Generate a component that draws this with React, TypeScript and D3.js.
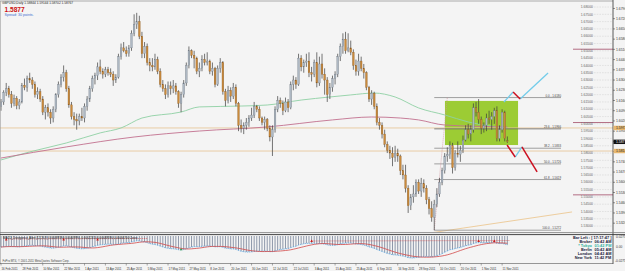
import React from "react";
import * as d3 from "d3";

const W = 625;
const H = 271;

// daily candles GBPUSD 16 Feb 2011 .. 15 Nov 2011 : [open, high, low, close]
const ohlc: [number, number, number, number][] = [
  [1.6120,1.6170,1.6090,1.6150],[1.6150,1.6230,1.6130,1.6215],[1.6215,1.6280,1.6190,1.6240],[1.6240,1.6260,1.6180,1.6200],
  [1.6200,1.6225,1.6110,1.6140],[1.6140,1.6200,1.6120,1.6175],[1.6175,1.6190,1.6100,1.6125],[1.6125,1.6170,1.6100,1.6150],
  [1.6150,1.6280,1.6140,1.6265],[1.6265,1.6310,1.6230,1.6250],[1.6250,1.6330,1.6220,1.6310],[1.6310,1.6350,1.6280,1.6300],
  [1.6300,1.6320,1.6240,1.6270],[1.6270,1.6290,1.6180,1.6200],[1.6200,1.6250,1.6170,1.6220],[1.6220,1.6240,1.6150,1.6170],
  [1.6170,1.6190,1.6060,1.6080],[1.6080,1.6130,1.6030,1.6110],[1.6110,1.6140,1.6050,1.6080],[1.6080,1.6100,1.6000,1.6040],
  [1.6040,1.6120,1.6010,1.6100],[1.6100,1.6210,1.6080,1.6200],[1.6200,1.6290,1.6180,1.6270],[1.6270,1.6340,1.6250,1.6320],
  [1.6320,1.6400,1.6290,1.6350],[1.6350,1.6370,1.6220,1.6240],[1.6240,1.6260,1.6110,1.6130],[1.6130,1.6150,1.6030,1.6050],
  [1.6050,1.6080,1.5990,1.6030],[1.6030,1.6070,1.5960,1.6020],[1.6020,1.6070,1.5990,1.6050],[1.6050,1.6110,1.6020,1.6040],
  [1.6040,1.6140,1.6010,1.6120],[1.6120,1.6190,1.6090,1.6170],[1.6170,1.6260,1.6150,1.6240],[1.6240,1.6330,1.6220,1.6310],
  [1.6310,1.6350,1.6270,1.6330],[1.6330,1.6420,1.6300,1.6390],[1.6390,1.6440,1.6340,1.6360],[1.6360,1.6380,1.6310,1.6340],
  [1.6340,1.6390,1.6320,1.6370],[1.6370,1.6390,1.6330,1.6350],[1.6350,1.6380,1.6320,1.6340],[1.6340,1.6360,1.6260,1.6300],
  [1.6300,1.6340,1.6280,1.6320],[1.6320,1.6480,1.6310,1.6460],[1.6460,1.6550,1.6440,1.6520],[1.6520,1.6560,1.6490,1.6500],
  [1.6500,1.6530,1.6460,1.6480],[1.6480,1.6540,1.6460,1.6520],[1.6520,1.6640,1.6500,1.6620],[1.6620,1.6750,1.6600,1.6680],
  [1.6680,1.6760,1.6650,1.6700],[1.6700,1.6740,1.6580,1.6600],[1.6600,1.6630,1.6450,1.6480],[1.6480,1.6560,1.6450,1.6530],
  [1.6530,1.6550,1.6400,1.6420],[1.6420,1.6450,1.6360,1.6400],[1.6400,1.6450,1.6360,1.6390],[1.6390,1.6480,1.6370,1.6440],
  [1.6440,1.6460,1.6340,1.6360],[1.6360,1.6380,1.6250,1.6270],[1.6270,1.6300,1.6220,1.6240],[1.6240,1.6270,1.6170,1.6200],
  [1.6200,1.6290,1.6180,1.6260],[1.6260,1.6290,1.6200,1.6240],[1.6240,1.6300,1.6210,1.6260],[1.6260,1.6280,1.6200,1.6220],
  [1.6220,1.6230,1.6110,1.6140],[1.6140,1.6220,1.6080,1.6200],[1.6200,1.6300,1.6180,1.6280],[1.6280,1.6420,1.6260,1.6400],
  [1.6400,1.6530,1.6380,1.6500],[1.6500,1.6510,1.6450,1.6470],[1.6470,1.6500,1.6380,1.6450],[1.6450,1.6460,1.6340,1.6360],
  [1.6360,1.6420,1.6320,1.6380],[1.6380,1.6470,1.6360,1.6440],[1.6440,1.6480,1.6400,1.6420],[1.6420,1.6490,1.6400,1.6430],
  [1.6430,1.6440,1.6340,1.6360],[1.6360,1.6420,1.6330,1.6380],[1.6380,1.6390,1.6250,1.6270],[1.6270,1.6400,1.6260,1.6380],
  [1.6380,1.6450,1.6350,1.6420],[1.6420,1.6430,1.6200,1.6220],[1.6220,1.6240,1.6120,1.6160],[1.6160,1.6260,1.6140,1.6230],
  [1.6230,1.6250,1.6150,1.6190],[1.6190,1.6280,1.6170,1.6250],[1.6250,1.6270,1.6120,1.6140],[1.6140,1.6150,1.5950,1.5990],
  [1.5990,1.6030,1.5940,1.5970],[1.5970,1.6010,1.5930,1.5990],[1.5990,1.6040,1.5960,1.6010],[1.6010,1.6060,1.5980,1.6040],
  [1.6040,1.6110,1.6020,1.6060],[1.6060,1.6150,1.6040,1.6120],[1.6120,1.6130,1.6080,1.6100],[1.6100,1.6120,1.6020,1.6040],
  [1.6040,1.6050,1.5990,1.6010],[1.6010,1.6050,1.5960,1.6030],[1.6030,1.6040,1.5950,1.5970],[1.5970,1.5990,1.5880,1.5910],
  [1.5910,1.5990,1.5780,1.5960],[1.5960,1.6120,1.5940,1.6100],[1.6100,1.6190,1.6080,1.6160],[1.6160,1.6180,1.6110,1.6140],
  [1.6140,1.6160,1.6060,1.6090],[1.6090,1.6180,1.6080,1.6150],[1.6150,1.6170,1.6080,1.6110],[1.6110,1.6290,1.6100,1.6270],
  [1.6270,1.6330,1.6230,1.6300],[1.6300,1.6320,1.6240,1.6270],[1.6270,1.6480,1.6260,1.6450],[1.6450,1.6470,1.6360,1.6390],
  [1.6390,1.6440,1.6350,1.6420],[1.6420,1.6480,1.6390,1.6430],[1.6430,1.6490,1.6320,1.6350],[1.6350,1.6390,1.6290,1.6340],
  [1.6340,1.6440,1.6320,1.6420],[1.6420,1.6490,1.6250,1.6280],[1.6280,1.6460,1.6260,1.6410],[1.6410,1.6480,1.6310,1.6340],
  [1.6340,1.6380,1.6200,1.6300],[1.6300,1.6320,1.6150,1.6200],[1.6200,1.6280,1.6170,1.6250],[1.6250,1.6330,1.6220,1.6310],
  [1.6310,1.6360,1.6270,1.6340],[1.6340,1.6480,1.6320,1.6460],[1.6460,1.6550,1.6430,1.6530],[1.6530,1.6620,1.6480,1.6580],
  [1.6580,1.6630,1.6480,1.6500],[1.6500,1.6620,1.6490,1.6520],[1.6520,1.6570,1.6470,1.6490],[1.6490,1.6510,1.6370,1.6400],
  [1.6400,1.6440,1.6330,1.6360],[1.6360,1.6480,1.6330,1.6430],[1.6430,1.6460,1.6360,1.6380],[1.6380,1.6410,1.6310,1.6350],
  [1.6350,1.6360,1.6230,1.6250],[1.6250,1.6260,1.6150,1.6170],[1.6170,1.6230,1.6130,1.6210],[1.6210,1.6220,1.6100,1.6120],
  [1.6120,1.6140,1.5990,1.6010],[1.6010,1.6040,1.5960,1.5990],[1.5990,1.6010,1.5900,1.5930],[1.5930,1.5960,1.5840,1.5860],
  [1.5860,1.5880,1.5800,1.5820],[1.5820,1.5850,1.5760,1.5800],[1.5800,1.5840,1.5710,1.5770],[1.5770,1.5850,1.5740,1.5800],
  [1.5800,1.5830,1.5740,1.5780],[1.5780,1.5790,1.5650,1.5680],[1.5680,1.5720,1.5620,1.5650],[1.5650,1.5720,1.5530,1.5560],
  [1.5560,1.5580,1.5390,1.5440],[1.5440,1.5520,1.5410,1.5500],[1.5500,1.5580,1.5460,1.5520],[1.5520,1.5620,1.5500,1.5600],
  [1.5600,1.5620,1.5520,1.5540],[1.5540,1.5630,1.5500,1.5590],[1.5590,1.5620,1.5530,1.5560],[1.5560,1.5580,1.5450,1.5480],
  [1.5480,1.5500,1.5380,1.5420],[1.5420,1.5470,1.5330,1.5360],[1.5360,1.5480,1.5272,1.5450],[1.5450,1.5560,1.5430,1.5520],
  [1.5520,1.5630,1.5500,1.5600],[1.5600,1.5700,1.5580,1.5680],[1.5680,1.5800,1.5660,1.5780],[1.5780,1.5840,1.5740,1.5790],
  [1.5790,1.5880,1.5760,1.5850],[1.5850,1.5870,1.5660,1.5700],[1.5700,1.5820,1.5680,1.5800],[1.5800,1.5880,1.5770,1.5790],
  [1.5790,1.5850,1.5740,1.5820],[1.5820,1.5920,1.5800,1.5890],[1.5890,1.5990,1.5880,1.5960],[1.5960,1.6000,1.5900,1.5930],
  [1.5930,1.5990,1.5880,1.5960],[1.5960,1.6140,1.5940,1.6110],[1.6110,1.6150,1.6050,1.6080],[1.6080,1.6170,1.6000,1.6030],
  [1.6030,1.6050,1.5930,1.5970],[1.5970,1.6010,1.5940,1.5990],[1.5990,1.6070,1.5950,1.6040],[1.6040,1.6090,1.6000,1.6030],
  [1.6030,1.6080,1.5960,1.6050],[1.6050,1.6110,1.6000,1.6090],[1.6090,1.6120,1.5880,1.5900],[1.5900,1.5990,1.5880,1.5960],
  [1.5960,1.6100,1.5940,1.6080],[1.6080,1.6090,1.5880,1.5900],[1.5884,1.5914,1.5870,1.5877],
];

// every 8th bar is labelled
const dateLabels = [
  "16 Feb 2011","28 Feb 2011","10 Mar 2011","22 Mar 2011","1 Apr 2011","13 Apr 2011","25 Apr 2011",
  "5 May 2011","17 May 2011","27 May 2011","8 Jun 2011","20 Jun 2011","30 Jun 2011","12 Jul 2011",
  "22 Jul 2011","3 Aug 2011","15 Aug 2011","25 Aug 2011","6 Sep 2011","16 Sep 2011","28 Sep 2011",
  "10 Oct 2011","20 Oct 2011","1 Nov 2011","11 Nov 2011",
];

// moving averages: [bar index, price]
const greenMA: [number, number][] = [
  [0,1.5753],[11,1.5808],[25,1.5869],[38,1.5938],[46,1.5972],[54,1.6040],[69,1.6081],[76,1.6116],
  [92,1.6122],[102,1.6129],[115,1.6163],[126,1.6184],[134,1.6198],[143,1.6211],[151,1.6184],
  [160,1.6109],[170,1.6061],[179,1.6013],[194,1.5972],
];
const maroonMA: [number, number][] = [
  [0,1.5766],[25,1.5842],[51,1.5910],[76,1.5951],[102,1.5979],[127,1.6027],[142,1.6047],
  [153,1.6040],[160,1.6027],[170,1.5992],[194,1.5979],
];

const tanLevels = [1.5972, 1.5814];
const pivotLevels = [1.6511, 1.6009, 1.5514];
const gridLevels = [
  1.68,1.675,1.67,1.665,1.66,1.655,1.65,1.645,1.64,1.635,1.63,1.625,1.62,1.615,1.61,1.605,
  1.6,1.595,1.59,1.585,1.58,1.575,1.57,1.565,1.56,1.555,1.55,1.545,1.54,1.535,1.53,
];
const axisTicks = [
  1.679,1.672,1.665,1.658,1.651,1.644,1.637,1.630,1.623,1.616,1.609,1.602,1.595,1.588,
  1.581,1.574,1.567,1.560,1.553,1.546,1.539,1.532,
];

// Fibonacci retracement
const fibHigh = 1.6180;
const fibLow = 1.5272;
const fibRatios = [0, 23.6, 38.2, 50, 61.8, 100];
const fibStartBar = 166;
const fibAnchorBar = 171;

// range box
const boxBars = [170.1, 198.1];
const boxPrices = [1.6157, 1.5855];

// projection zig-zag segments [bar1, price1, bar2, price2]
const cyanSegs: [number, number, number, number][] = [
  [192.7,1.6150,196.2,1.6218],[198.9,1.6170,209.6,1.6348],[197.0,1.5773,199.6,1.5842],
];
const redSegs: [number, number, number, number][] = [
  [196.2,1.6218,198.9,1.6170],[193.9,1.5855,197.0,1.5773],[199.6,1.5842,205.4,1.5671],
];
const tanTrend: [number, number, number, number] = [164.4, 1.5253, 218.8, 1.5397];

const clockRows: [string, string][] = [
  ["Broker", "06:42 AM"],["* Tokyo", "01:42 PM"],["Berlin", "05:42 AM"],["London", "04:42 AM"],["New York", "11:42 PM"],
];

export default function App() {
  const n = ohlc.length;
  const x = d3.scaleLinear().domain([0, n - 1]).range([1, 1 + (n - 1) * 2.61]);
  const y = d3.scaleLinear().domain([1.68, 1.5272]).range([7, 230.2]);
  const ym = d3.scaleLinear().domain([0, -0.0275]).range([247, 262]);

  // MACD(12,26,9) from closes
  const closes = ohlc.map((d) => d[3]);
  const ema = (arr: number[], p: number) => {
    const k = 2 / (p + 1);
    const out: number[] = [];
    arr.forEach((v, i) => out.push(i === 0 ? v : v * k + out[i - 1] * (1 - k)));
    return out;
  };
  const e12 = ema(closes, 12);
  const e26 = ema(closes, 26);
  const macd = closes.map((_, i) => e12[i] - e26[i]);
  const signal = macd.map((_, i) => d3.mean(macd.slice(Math.max(0, i - 8), i + 1)) as number);

  const maLine = d3.line<[number, number]>().x((d) => x(d[0])).y((d) => y(d[1])).curve(d3.curveMonotoneX);
  const subLine = d3.line<number>().x((_, i) => x(i)).y((v) => Math.max(236, ym(v)));

  const bw = 1.7;
  const fibLevels = fibRatios.map((r) => ({ r, p: fibHigh - (fibHigh - fibLow) * (r / 100) }));

  return (
    <svg width={W} height={H} style={{ position: "absolute", left: 0, top: 0, background: "#f4f4f4" }}
      fontFamily="Arial, 'Liberation Sans', sans-serif">
      <defs>
        <clipPath id="mainClip"><rect x={0} y={1} width={613} height={231} /></clipPath>
        <clipPath id="subClip"><rect x={0} y={235} width={613} height={28} /></clipPath>
      </defs>
      <rect x={0} y={0} width={W} height={H} fill="#f4f4f4" />

      <g clipPath="url(#mainClip)">
        {/* range box */}
        <rect x={x(boxBars[0])} y={y(boxPrices[0])} width={x(boxBars[1]) - x(boxBars[0])}
          height={y(boxPrices[1]) - y(boxPrices[0])} fill="#9ccc34" />
        {/* horizontal tan levels */}
        {tanLevels.map((p, i) => (
          <line key={"t" + i} x1={0} x2={613} y1={y(p)} y2={y(p)} stroke="#e6c79c" strokeWidth={0.9} />
        ))}
        {/* pivot short lines */}
        {pivotLevels.map((p, i) => (
          <line key={"pv" + i} x1={573} x2={613} y1={y(p)} y2={y(p)} stroke="#a24a66" strokeWidth={0.8} />
        ))}
        {/* grid level labels */}
        {gridLevels.map((p, i) => (
          <g key={"g" + i}>
            <line x1={594} x2={612} y1={y(p)} y2={y(p)} stroke="#b8b8b8" strokeWidth={0.5} strokeDasharray="0.6,1" />
            <text x={593} y={y(p) + 1.2} fontSize={3.4} fill="#666" textAnchor="end">{p.toFixed(5)}</text>
          </g>
        ))}
        {/* moving averages */}
        <path d={maLine(greenMA) || ""} fill="none" stroke="#8fd0a4" strokeWidth={0.9} />
        <path d={maLine(maroonMA) || ""} fill="none" stroke="#c2708e" strokeWidth={0.9} />
        {/* tan trendline */}
        <line x1={x(tanTrend[0])} y1={y(tanTrend[1])} x2={x(tanTrend[2])} y2={y(tanTrend[3])} stroke="#ecc894" strokeWidth={0.9} />
        {/* fibonacci */}
        {fibLevels.map((f, i) => (
          <g key={"f" + i}>
            <line x1={x(fibStartBar)} x2={561} y1={y(f.p)} y2={y(f.p)} stroke={f.r === 23.6 ? "#666" : "#8a8a8a"} strokeWidth={0.8} />
            <text x={561} y={y(f.p) - 0.8} fontSize={2.9} fill="#444" textAnchor="end">
              {`${f.r.toFixed(1)} - ${f.p.toFixed(4)}`}
            </text>
          </g>
        ))}
        <line x1={x(fibStartBar)} y1={y(fibLow)} x2={x(fibAnchorBar)} y2={y(fibHigh)} stroke="#d0909a" strokeWidth={0.7} strokeDasharray="1,1" />
        {/* candles */}
        {ohlc.map((d, i) => {
          const [o, h, l, c] = d;
          const up = c >= o;
          const cx = x(i);
          const top = y(Math.max(o, c));
          const bh = Math.max(0.6, y(Math.min(o, c)) - top);
          return (
            <g key={"c" + i}>
              <line x1={cx} x2={cx} y1={y(h)} y2={y(l)} stroke="#3c3c3c" strokeWidth={0.7} />
              <rect x={cx - bw / 2} y={top} width={bw} height={bh}
                fill={up ? "#aeb8c3" : "#c98a3c"} stroke={up ? "#6d7782" : "#8a5a22"} strokeWidth={0.3} />
            </g>
          );
        })}
        {/* projections */}
        {cyanSegs.map((s, i) => (
          <line key={"cy" + i} x1={x(s[0])} y1={y(s[1])} x2={x(s[2])} y2={y(s[3])} stroke="#72ccea" strokeWidth={1.3} />
        ))}
        {redSegs.map((s, i) => (
          <line key={"rd" + i} x1={x(s[0])} y1={y(s[1])} x2={x(s[2])} y2={y(s[3])} stroke="#cc1020" strokeWidth={1.5} />
        ))}
      </g>

      {/* header texts */}
      <text x={2} y={4.4} fontSize={3.2} fill="#222">GBPUSD,Daily  1.58844 1.59144 1.58702 1.58767</text>
      <text x={4.5} y={12} fontSize={6.6} fontWeight="bold" fill="#cc1111">1.5877</text>
      <text x={4.5} y={16} fontSize={3.6} fill="#3b6fd0">Spread: 30 points.</text>

      {/* frames */}
      <line x1={0} x2={613} y1={1} y2={1} stroke="#9a9a9a" strokeWidth={0.8} />
      <line x1={0.5} x2={0.5} y1={1} y2={264} stroke="#9a9a9a" strokeWidth={0.6} />
      <line x1={613} x2={613} y1={0} y2={264} stroke="#333" strokeWidth={0.8} />
      <line x1={0} x2={625} y1={232.6} y2={232.6} stroke="#777" strokeWidth={0.8} />
      <line x1={0} x2={625} y1={234.6} y2={234.6} stroke="#333" strokeWidth={0.9} />
      <line x1={0} x2={613} y1={263.5} y2={263.5} stroke="#555" strokeWidth={0.6} />

      {/* right axis (main) */}
      {axisTicks.map((p, i) => (
        <g key={"a" + i}>
          <line x1={613} x2={615} y1={y(p)} y2={y(p)} stroke="#333" strokeWidth={0.5} />
          <text x={616} y={y(p) + 1.2} fontSize={3.4} fill="#333">{p.toFixed(4)}</text>
        </g>
      ))}
      {tanLevels.map((p, i) => (
        <g key={"tl" + i}>
          <rect x={613.5} y={y(p) - 2.2} width={12} height={4.4} fill="#e8b870" />
          <text x={616} y={y(p) + 1.2} fontSize={3.4} fill="#222">{p.toFixed(4)}</text>
        </g>
      ))}
      <rect x={613.5} y={y(closes[n - 1]) - 2.2} width={12} height={4.4} fill="#111" />
      <text x={616} y={y(closes[n - 1]) + 1.2} fontSize={3.4} fill="#fff">{closes[n - 1].toFixed(4)}</text>

      {/* MACD sub-window */}
      <g clipPath="url(#subClip)">
        {macd.map((v, i) => (
          <line key={"h" + i} x1={x(i)} x2={x(i)} y1={236} y2={Math.max(236, ym(v))} stroke="#62708a" strokeWidth={0.7} />
        ))}
        <path d={subLine(macd) || ""} fill="none" stroke="#4a9ee0" strokeWidth={0.8} strokeDasharray="1,0.8" />
        <path d={subLine(signal) || ""} fill="none" stroke="#d24848" strokeWidth={0.8} />
        <line x1={x(2)} y1={239} x2={x(56)} y2={238.5} stroke="#d23030" strokeWidth={0.6} strokeDasharray="1,1" />
        <line x1={x(119)} y1={241} x2={x(195)} y2={240.5} stroke="#d23030" strokeWidth={0.6} strokeDasharray="1,1" />
        {[2, 24, 37, 119, 183, 189].map((b, i) => (
          <path key={"m" + i} d={`M${x(b) - 1.3},${i < 3 ? 240.5 : 242} l1.3,-2.4 l1.3,2.4 z`} fill="#cc1a1a" />
        ))}
        <path d={`M${x(69) - 1.3},${ym(macd[69]) + 0.5} l1.3,-2 l1.3,2 z`} fill="#2a9a3a" />
      </g>
      <text x={3} y={239.3} fontSize={2.9} fill="#222">
        MACD_Divergence_Alert (12,26,9)  0.00089390  0.00069990  -0.00022410  0.00089390  0.00006700  Cross
      </text>
      <text x={2.5} y={262} fontSize={2.8} fill="#444">FxPro MT4, © 2001-2011 MetaQuotes Software Corp.</text>
      <text x={616} y={237.8} fontSize={3.2} fill="#333">0.0275</text>
      <text x={616} y={248.2} fontSize={3.2} fill="#333">0.00</text>
      <text x={615} y={262} fontSize={3.2} fill="#333">-0.0275</text>

      {/* clocks */}
      <text x={611.5} y={239.3} fontSize={3.9} fontWeight="bold" fill="#1a1a3a" textAnchor="end">Bar Left : [ 17:17:47 ]</text>
      {clockRows.map((r, i) => (
        <g key={"ck" + i}>
          <text x={592} y={243.4 + i * 4} fontSize={3.9} fontWeight="bold" fill={i === 1 ? "#30b0a0" : "#1a1a3a"} textAnchor="end">{r[0]}</text>
          <text x={594.5} y={243.4 + i * 4} fontSize={3.9} fontWeight="bold" fill={i === 1 ? "#30b0a0" : "#1a1a3a"}>{r[1]}</text>
        </g>
      ))}

      {/* date axis */}
      {dateLabels.map((t, i) => (
        <g key={"d" + i}>
          <line x1={x(i * 8)} x2={x(i * 8)} y1={263.5} y2={265.5} stroke="#555" strokeWidth={0.5} />
          <text x={x(i * 8) + 0.5} y={269.5} fontSize={2.9} fill="#333">{t}</text>
        </g>
      ))}
    </svg>
  );
}
